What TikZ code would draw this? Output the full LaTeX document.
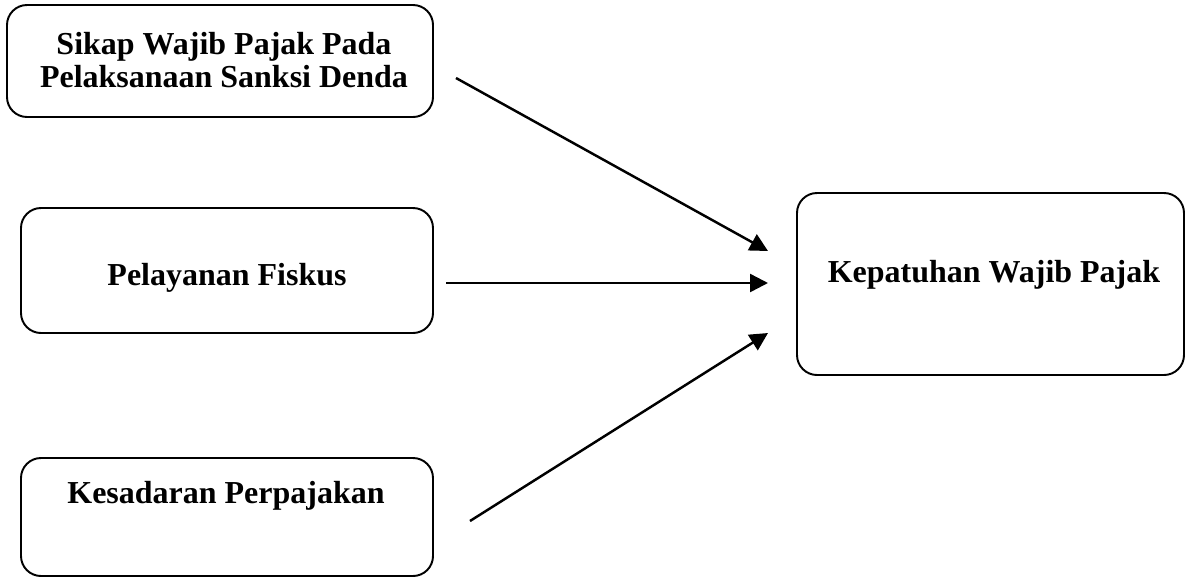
\documentclass[tikz,border=0pt]{standalone}
\usepackage{fontspec}
\setmainfont{Liberation Serif}
\usetikzlibrary{arrows.meta,positioning}

\begin{document}
\begin{tikzpicture}[
	box/.style={draw, line width=1.1pt, rounded corners=0.4cm},
	txt/.style={font=\bfseries\fontsize{18.2}{18.8}\selectfont, inner sep=0pt},
	arr/.style={line width=1.4pt, -{Triangle[length=0.36cm,width=0.36cm]}}]
	\useasboundingbox (0,0) rectangle (23.7,-11.54);
	% kotak variabel
	\node[box, minimum width=8.52cm, minimum height=2.24cm] (sikap) at (4.40,-1.22) {};
	\node[box, minimum width=8.24cm, minimum height=2.50cm] (fiskus) at (4.54,-5.41) {};
	\node[box, minimum width=8.24cm, minimum height=2.36cm] (sadar) at (4.54,-10.34) {};
	\node[box, minimum width=7.74cm, minimum height=3.64cm] (patuh) at (19.81,-5.68) {};
	% teks
	\node[txt, align=center] (tsikap) at (4.48,-1.21) {Sikap Wajib Pajak Pada\\Pelaksanaan Sanksi Denda};
	\node[txt, anchor=base] (tfiskus) at (4.54,-5.70) {Pelayanan Fiskus};
	\node[txt, anchor=base] (tsadar) at (4.52,-10.06) {Kesadaran Perpajakan};
	\node[txt, anchor=base] (tpatuh) at (19.88,-5.64) {Kepatuhan Wajib Pajak};
	% ujung panah
	\coordinate (a1) at (9.12,-1.56);
	\coordinate (b1) at (15.36,-5.02);
	\coordinate (a2) at (8.92,-5.66);
	\coordinate (b2) at (15.36,-5.66);
	\coordinate (a3) at (9.40,-10.42);
	\coordinate (b3) at (15.36,-6.66);
	\draw[arr] (a1)--(b1);
	\draw[arr] (a2)--(b2);
	\draw[arr] (a3)--(b3);
\end{tikzpicture}
\end{document}
